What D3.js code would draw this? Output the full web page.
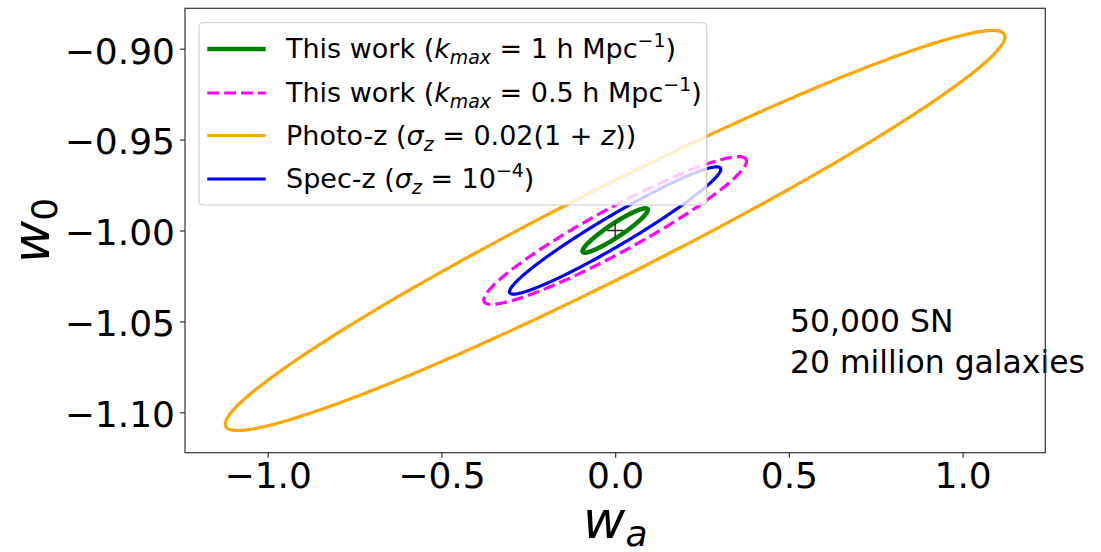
<!DOCTYPE html>
<html>
<head>
<meta charset="utf-8">
<script src="https://cdn.jsdelivr.net/npm/d3@7"></script>
<style>
  html, body { margin: 0; padding: 0; background: #fff; }
  svg { display: block; }
  text { font-family: "DejaVu Sans", sans-serif; fill: #000; }
</style>
</head>
<body>
<svg id="chart" width="1101" height="552"></svg>
<script>
// Forecast constraint ellipses in the (w_a, w_0) plane, centred on the fiducial model.
const seriesNames   = ["kmax1", "kmax05", "photoz", "specz"];
const seriesColors  = ["#008000", "#ff00ff", "#ffa500", "#0000ff"];
const seriesDashed  = [false, true, false, false];
const seriesWidths  = [4.5, 3.2, 3.2, 3.2];
// half-extent of each contour along w_a and w_0, and the w_a–w_0 correlation
const halfWa        = [0.094, 0.378, 1.122, 0.304];
const halfW0        = [0.0122, 0.0406, 0.1100, 0.0350];
const correlation   = [0.93, 0.94, 0.968, 0.962];
const fiducial      = { wa: 0.0, w0: -1.0 };

const xTicks = [-1.0, -0.5, 0.0, 0.5, 1.0];
const yTicks = [-1.10, -1.05, -1.00, -0.95, -0.90];
const xDomain = [-1.238, 1.238];
const yDomain = [-1.1222, -0.8778];

// legend rows: text pieces, with style n = normal, i = italic, sub / sup
const legendRows = [
  [["This work (", "n"], ["k", "i"], ["max", "sub"], [" = 1 h Mpc", "n"], ["\u22121", "sup"], [")", "n"]],
  [["This work (", "n"], ["k", "i"], ["max", "sub"], [" = 0.5 h Mpc", "n"], ["\u22121", "sup"], [")", "n"]],
  [["Photo-z (", "n"], ["\u03c3", "i"], ["z", "sub"], [" = 0.02(1 + ", "n"], ["z", "i"], ["))", "n"]],
  [["Spec-z (", "n"], ["\u03c3", "i"], ["z", "sub"], [" = 10", "n"], ["\u22124", "sup"], [")", "n"]]
];
const noteLines = ["50,000 SN", "20 million galaxies"];

const svg = d3.select("#chart");
const plot = { left: 185, right: 1045.3, top: 8.3, bottom: 452.7 };

const x = d3.scaleLinear().domain(xDomain).range([plot.left, plot.right]);
const y = d3.scaleLinear().domain(yDomain).range([plot.bottom, plot.top]);

svg.append("rect").attr("width", 1101).attr("height", 552).attr("fill", "#fff");

// axes
const fmtX = v => d3.format(".1f")(v).replace("-", "\u2212");
const fmtY = v => d3.format(".2f")(v).replace("-", "\u2212");

const xAxis = svg.append("g")
  .attr("transform", `translate(0,${plot.bottom})`)
  .call(d3.axisBottom(x).tickValues(xTicks).tickFormat(fmtX).tickSize(5).tickSizeOuter(0).tickPadding(5));
const yAxis = svg.append("g")
  .attr("transform", `translate(${plot.left},0)`)
  .call(d3.axisLeft(y).tickValues(yTicks).tickFormat(fmtY).tickSize(5).tickSizeOuter(0).tickPadding(5));

[xAxis, yAxis].forEach(g => {
  g.select(".domain").remove();
  g.selectAll(".tick line").attr("stroke", "#333").attr("stroke-width", 1.2);
  g.selectAll(".tick text")
    .attr("font-family", "DejaVu Sans")
    .attr("font-size", 36)
    .attr("fill", "#000");
});
yAxis.selectAll(".tick text").attr("dy", "0.40em");

// contour ellipses
const clipId = "plotClip";
svg.append("clipPath").attr("id", clipId).append("rect")
  .attr("x", plot.left).attr("y", plot.top)
  .attr("width", plot.right - plot.left).attr("height", plot.bottom - plot.top);

const angles = d3.range(0, 361, 1).map(d => d * Math.PI / 180);
const ellipsePoints = i => {
  const s = Math.sqrt(1 - correlation[i] * correlation[i]);
  return angles.map(t => [
    fiducial.wa + halfWa[i] * Math.cos(t),
    fiducial.w0 + halfW0[i] * (correlation[i] * Math.cos(t) + s * Math.sin(t))
  ]);
};
const line = d3.line().x(d => x(d[0])).y(d => y(d[1])).curve(d3.curveLinearClosed);

const gPlot = svg.append("g").attr("clip-path", `url(#${clipId})`);
seriesNames.forEach((name, i) => {
  gPlot.append("path")
    .attr("class", "contour " + name)
    .attr("d", line(ellipsePoints(i)))
    .attr("fill", "none")
    .attr("stroke", seriesColors[i])
    .attr("stroke-width", seriesWidths[i])
    .attr("stroke-dasharray", seriesDashed[i] ? "11.8,5.1" : null)
    .attr("stroke-linejoin", "round");
});

// fiducial point marker
const fx = x(fiducial.wa), fy = y(fiducial.w0);
gPlot.append("path")
  .attr("d", `M${fx - 8},${fy}H${fx + 8}M${fx},${fy - 8}V${fy + 8}`)
  .attr("stroke", "#222").attr("stroke-width", 1.4).attr("fill", "none");

// legend
const leg = svg.append("g");
leg.append("rect")
  .attr("x", 199).attr("y", 22.7).attr("width", 507.7).attr("height", 182.3)
  .attr("rx", 4).attr("ry", 4)
  .attr("fill", "#fff").attr("fill-opacity", 0.8)
  .attr("stroke", "#cccccc").attr("stroke-width", 1.1);

const rowY = [49, 93, 135.5, 179];
const legFont = 27;
legendRows.forEach((pieces, i) => {
  leg.append("line")
    .attr("x1", 207.3).attr("x2", 265.7).attr("y1", rowY[i]).attr("y2", rowY[i])
    .attr("stroke", seriesColors[i]).attr("stroke-width", seriesWidths[i])
    .attr("stroke-dasharray", seriesDashed[i] ? "11.8,5.1" : null);
  const t = leg.append("text").attr("x", 286).attr("y", rowY[i] + 9.3).attr("font-size", legFont);
  let shift = 0;
  pieces.forEach(([txt, style]) => {
    let target = 0, size = legFont, italic = false;
    if (style === "i") italic = true;
    if (style === "sub") { target = 6; size = legFont * 0.7; italic = true; }
    if (style === "sup") { target = -11; size = legFont * 0.7; }
    t.append("tspan")
      .attr("dy", target - shift)
      .attr("font-size", size)
      .attr("font-style", italic ? "italic" : "normal")
      .style("white-space", "pre")
      .text(txt);
    shift = target;
  });
});

// note
const note = svg.append("g");
const noteBase = [331.7, 373.3];
let noteSize = 38;
noteLines.forEach((s, i) => {
  note.append("text")
    .attr("x", 790).attr("y", noteBase[i])
    .attr("font-family", "Lato, 'Open Sans', sans-serif")
    .attr("font-size", noteSize)
    .text(s);
});
// fit the longer line to its span
const longest = note.selectAll("text").nodes()[1];
const w = longest.getComputedTextLength();
noteSize = noteSize * 295 / w;
note.selectAll("text").attr("font-size", noteSize);

// axis titles
const xl = svg.append("text")
  .attr("x", (plot.left + plot.right) / 2).attr("y", 538)
  .attr("text-anchor", "middle").attr("font-size", 52);
xl.append("tspan").attr("font-style", "italic").text("w");
xl.append("tspan").attr("font-style", "italic").attr("font-size", 36).attr("dy", 8).text("a");

const yl = svg.append("text")
  .attr("transform", `translate(49,${(plot.top + plot.bottom) / 2}) rotate(-90)`)
  .attr("text-anchor", "middle").attr("font-size", 52);
yl.append("tspan").attr("font-style", "italic").text("w");
yl.append("tspan").attr("font-size", 36).attr("dy", 8).text("0");

// frame
svg.append("rect")
  .attr("x", plot.left).attr("y", plot.top)
  .attr("width", plot.right - plot.left).attr("height", plot.bottom - plot.top)
  .attr("fill", "none").attr("stroke", "#333").attr("stroke-width", 1.2);
</script>
</body>
</html>
